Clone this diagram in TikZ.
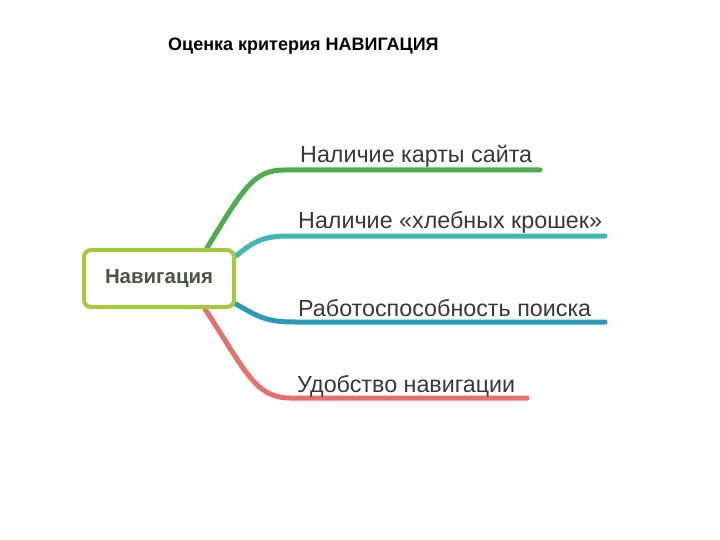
\documentclass[tikz,border=0pt]{standalone}
\usepackage{fontspec}
\setmainfont{Liberation Sans}
\pgfdeclarelayer{bg}
\pgfsetlayers{bg,main}
\definecolor{cgreen}{HTML}{4BAE4F}
\definecolor{cteal}{HTML}{3DB8B3}
\definecolor{cblue}{HTML}{2A9AB8}
\definecolor{cred}{HTML}{E8706A}
\definecolor{clime}{HTML}{A6C93A}
\definecolor{ctext}{HTML}{383838}
\definecolor{cnav}{HTML}{4A5640}
\tikzset{
  branch/.style={line width=5pt, line cap=round},
  lbl/.style={anchor=base west, inner sep=0pt, text=ctext, font=\fontsize{23.3}{26}\selectfont},
}
\begin{document}
\begin{tikzpicture}[x=1pt,y=-1pt]
\useasboundingbox (0,0) rectangle (720,540);
\node[anchor=base west, inner sep=0pt, font=\bfseries\fontsize{18}{21}\selectfont] (title) at (168,51) {Оценка критерия НАВИГАЦИЯ};
\node[draw=clime, line width=4pt, rounded corners=7pt, minimum width=150pt, minimum height=57pt, fill=white, text=cnav, font=\bfseries\fontsize{20.4}{23}\selectfont] (nav) at (159,278.5) {Навигация};
\coordinate (g1) at (285,170); \coordinate (g2) at (540,170);
\coordinate (t1) at (290,236); \coordinate (t2) at (605,236);
\coordinate (b1) at (295,322); \coordinate (b2) at (605,322);
\coordinate (r1) at (290,398); \coordinate (r2) at (527,398);
\begin{pgfonlayer}{bg}
\draw[branch, cgreen] ([xshift=48pt]nav.north) .. controls (245,185) and (255,170) .. (g1) -- (g2);
\draw[branch, cteal] ([yshift=-8pt]nav.north east) .. controls (255,240) and (265,236) .. (t1) -- (t2);
\draw[branch, cblue] ([yshift=5pt]nav.south east) .. controls (260,318) and (268,322) .. (b1) -- (b2);
\draw[branch, cred] ([xshift=46pt]nav.south) .. controls (245,370) and (255,398) .. (r1) -- (r2);
\end{pgfonlayer}
\node[lbl] (l1) at (300,163) {Наличие карты сайта};
\node[lbl] (l2) at (298,229) {Наличие «хлебных крошек»};
\node[lbl] (l3) at (298,316) {Работоспособность поиска};
\node[lbl] (l4) at (297,392) {Удобство навигации};
\end{tikzpicture}
\end{document}
